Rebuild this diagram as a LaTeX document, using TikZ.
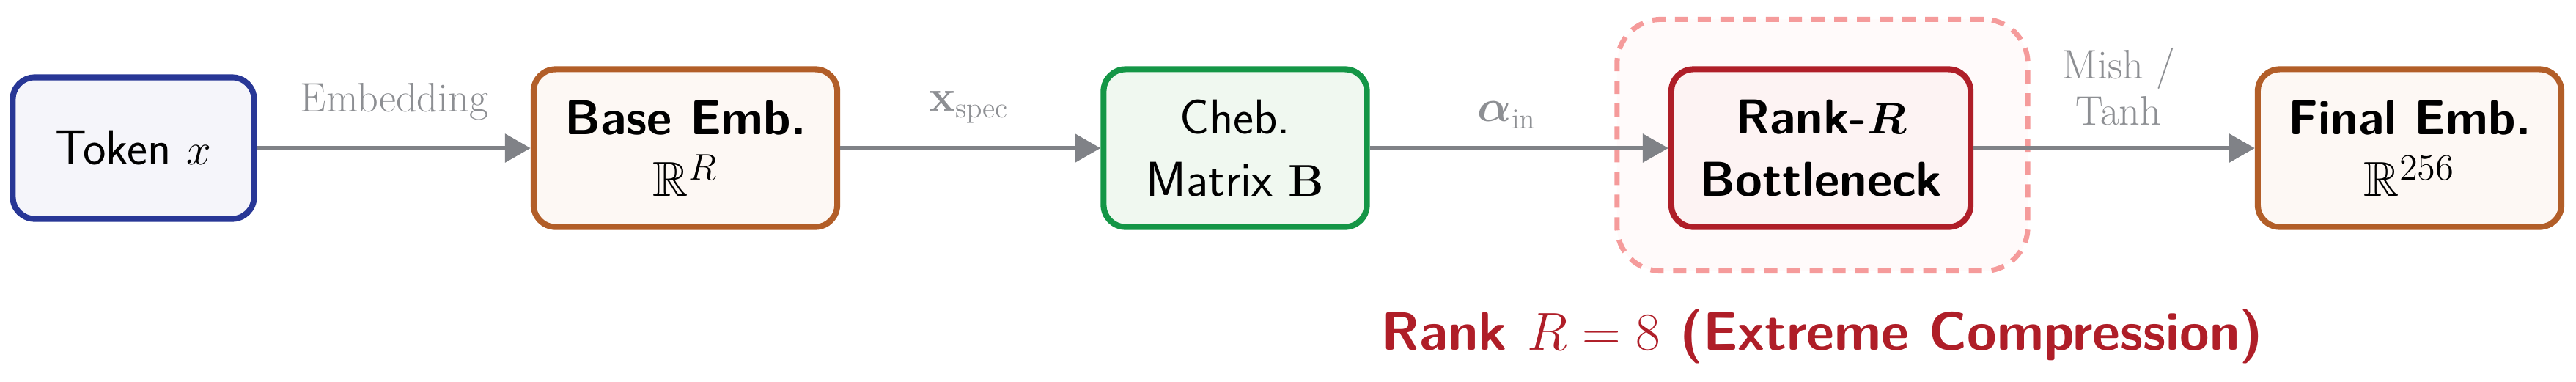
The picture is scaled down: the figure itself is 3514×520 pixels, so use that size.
\documentclass[tikz,border=0pt]{standalone}
\usepackage{amsmath,amssymb,bm}
\usetikzlibrary{arrows.meta}
\definecolor{cblue}{RGB}{40,55,150}\definecolor{fblue}{RGB}{245,245,250}
\definecolor{corange}{RGB}{178,94,40}\definecolor{forange}{RGB}{253,248,244}
\definecolor{cgreen}{RGB}{20,150,70}\definecolor{fgreen}{RGB}{240,248,240}
\definecolor{cred}{RGB}{175,30,40}\definecolor{fred}{RGB}{253,243,243}
\definecolor{cdash}{RGB}{245,155,155}\definecolor{fdash}{RGB}{255,250,250}
\definecolor{carrow}{RGB}{128,130,135}
\begin{document}
\begin{tikzpicture}[x=0.01cm,y=-0.01cm,
 box/.style={draw,rounded corners=0.3cm,line width=2.3pt,align=center,inner sep=0pt,font=\fontsize{19}{24}\selectfont\sffamily},
 arr/.style={draw=carrow,line width=1.8pt,-{Triangle[length=0.35cm,width=0.38cm]}},
 lab/.style={text=carrow!90,font=\fontsize{16}{20}\selectfont,align=center}]
\useasboundingbox (0,0) rectangle (3514,520);
\node[draw=cdash,fill=fdash,dashed,dash pattern=on 0.18cm off 0.13cm,line width=2pt,rounded corners=0.6cm,minimum width=5.6cm,minimum height=3.43cm] (grp) at (2486,198) {};
\node[box,draw=cblue,fill=fblue,minimum width=3.29cm,minimum height=1.93cm] (tok) at (182,202) {Token $x$};
\node[box,draw=corange,fill=forange,minimum width=4.14cm,minimum height=2.15cm] (base) at (935,202) {\textbf{Base Emb.}\\$\mathbb{R}^R$};
\node[box,draw=cgreen,fill=fgreen,minimum width=3.59cm,minimum height=2.15cm] (cheb) at (1685,202) {Cheb.\\Matrix $\mathbf{B}$};
\node[box,draw=cred,fill=fred,minimum width=4.08cm,minimum height=2.15cm] (rank) at (2484,202) {\textbf{Rank-$\bm{R}$}\\\textbf{Bottleneck}};
\node[box,draw=corange,fill=forange,minimum width=4.14cm,minimum height=2.15cm] (fin) at (3287,202) {\textbf{Final Emb.}\\$\mathbb{R}^{256}$};
\draw[arr] (tok) -- (base);
\draw[arr] (base) -- (cheb);
\draw[arr] (cheb) -- (rank);
\draw[arr] (rank) -- (fin);
\node[lab] (l1) at (538,139) {Embedding};
\node[lab] (l2) at (1322,146) {$\mathbf{x}_{\text{spec}}$};
\node[lab] (l3) at (2056,157) {$\bm{\alpha}_{\text{in}}$};
\node[lab] (l4) at (2890,118) {Mish /\\[-2pt]Tanh};
\node[text=cred,font=\fontsize{21}{26}\selectfont\sffamily\bfseries] (cap) at (2486,459) {Rank $R=8$ (Extreme Compression)};
\end{tikzpicture}
\end{document}
